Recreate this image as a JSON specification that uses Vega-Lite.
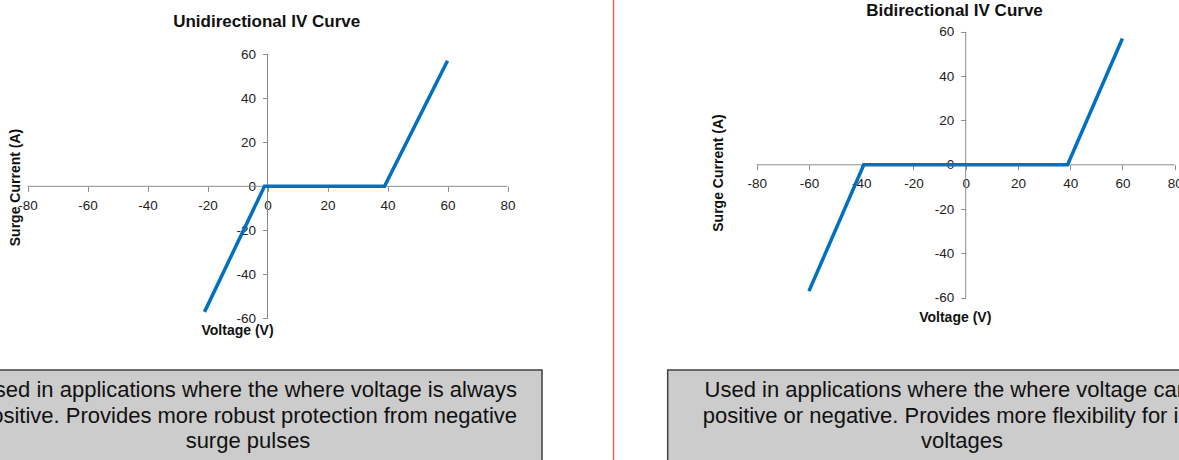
{
  "$schema": "https://vega.github.io/schema/vega-lite/v6.json",
  "width": 1179,
  "height": 460,
  "padding": 0,
  "autosize": {"type": "none"},
  "background": "white",
  "config": {"view": {"stroke": null}, "font": "Liberation Sans"},
  "datasets": {
    "unidirectional": [
      {"voltage": -21, "current": -57},
      {"voltage": -1, "current": 0},
      {"voltage": 39, "current": 0},
      {"voltage": 60, "current": 57}
    ],
    "bidirectional": [
      {"voltage": -60, "current": -57},
      {"voltage": -39, "current": 0},
      {"voltage": 39, "current": 0},
      {"voltage": 60, "current": 57}
    ]
  },
  "layer": [
    {
      "resolve": {"axis": {"x": "independent", "y": "independent"}},
      "layer": [
        {
          "data": {"values": [{}]},
          "mark": {"type": "rule", "color": "#E06666", "strokeWidth": 1.5},
          "encoding": {
            "x": {"datum": 115.33, "type": "quantitative", "scale": {"domain": [-89.17, 303.83], "nice": false, "zero": false}, "axis": null}
          }
        },
        {
          "data": {"values": [{}]},
          "mark": {"type": "rect", "fill": "#CCCCCC", "stroke": "#404040", "strokeWidth": 1.5},
          "encoding": {
            "x": {"datum": -110, "type": "quantitative", "scale": {"domain": [-89.17, 303.83], "nice": false, "zero": false}, "axis": null},
            "x2": {"datum": 91.5},
            "y": {"datum": -83.4, "type": "quantitative", "scale": {"domain": [-124.24, 84.57], "nice": false, "zero": false}, "axis": null},
            "y2": {"datum": -140}
          }
        },
        {
          "data": {"values": [{"note": "Used in applications where the where voltage is always\npositive. Provides more robust protection from negative\nsurge pulses"}]},
          "mark": {"type": "text", "font": "Liberation Sans", "fontSize": 22, "lineBreak": "\n", "lineHeight": 25.5, "align": "center", "baseline": "middle", "color": "#111111"},
          "encoding": {
            "x": {"datum": -6.5, "type": "quantitative", "scale": {"domain": [-89.17, 303.83], "nice": false, "zero": false}, "axis": null},
            "y": {"datum": -92.47, "type": "quantitative", "scale": {"domain": [-124.24, 84.57], "nice": false, "zero": false}, "axis": null},
            "text": {"field": "note"}
          }
        },
        {
          "data": {"values": [{}]},
          "mark": {"type": "rule", "color": "#8C8C8C", "strokeWidth": 1},
          "encoding": {
            "x": {"datum": -80, "type": "quantitative", "scale": {"domain": [-89.17, 303.83], "nice": false, "zero": false}, "axis": null},
            "x2": {"datum": 80},
            "y": {"datum": 0, "type": "quantitative", "scale": {"domain": [-124.24, 84.57], "nice": false, "zero": false}, "axis": null}
          }
        },
        {
          "data": {"values": [{}]},
          "mark": {"type": "rule", "color": "#8C8C8C", "strokeWidth": 1},
          "encoding": {
            "x": {"datum": 0, "type": "quantitative", "scale": {"domain": [-89.17, 303.83], "nice": false, "zero": false}, "axis": null},
            "y": {"datum": -60, "type": "quantitative", "scale": {"domain": [-124.24, 84.57], "nice": false, "zero": false}, "axis": null},
            "y2": {"datum": 60}
          }
        },
        {
          "data": {"name": "unidirectional"},
          "mark": {"type": "line", "color": "#0070C0", "strokeWidth": 3.5},
          "encoding": {
            "x": {
              "field": "voltage", "type": "quantitative",
              "scale": {"domain": [-89.17, 303.83], "nice": false, "zero": false},
              "axis": {"orient": "bottom", "offset": -273.7, "values": [-80, -60, -40, -20, 0, 20, 40, 60, 80], "labelExpr": "'' + datum.value", "domain": false, "grid": false, "tickSize": 5, "tickColor": "#8C8C8C", "tickWidth": 1, "labelFont": "Liberation Sans", "labelFontSize": 13.5, "labelColor": "#222222", "labelPadding": 7, "labelFlush": false, "labelOverlap": false, "title": null}
            },
            "y": {
              "field": "current", "type": "quantitative",
              "scale": {"domain": [-124.24, 84.57], "nice": false, "zero": false},
              "axis": {"orient": "left", "offset": -267.5, "values": [-60, -40, -20, 0, 20, 40, 60], "labelExpr": "'' + datum.value", "domain": false, "grid": false, "tickSize": 5, "tickColor": "#8C8C8C", "tickWidth": 1, "labelFont": "Liberation Sans", "labelFontSize": 13.5, "labelColor": "#222222", "labelPadding": 7, "labelFlush": false, "labelOverlap": false, "title": null}
            }
          }
        },
        {
          "data": {"values": [{"label": "Unidirectional IV Curve"}]},
          "mark": {"type": "text", "font": "Liberation Sans", "fontSize": 17, "fontWeight": "bold", "align": "center", "baseline": "middle", "color": "#111111"},
          "encoding": {
            "x": {"datum": -0.27, "type": "quantitative", "scale": {"domain": [-89.17, 303.83], "nice": false, "zero": false}, "axis": null},
            "y": {"datum": 74.8, "type": "quantitative", "scale": {"domain": [-124.24, 84.57], "nice": false, "zero": false}, "axis": null},
            "text": {"field": "label"}
          }
        },
        {
          "data": {"values": [{"label": "Voltage (V)"}]},
          "mark": {"type": "text", "font": "Liberation Sans", "fontSize": 14, "fontWeight": "bold", "align": "center", "baseline": "middle", "color": "#111111"},
          "encoding": {
            "x": {"datum": -10, "type": "quantitative", "scale": {"domain": [-89.17, 303.83], "nice": false, "zero": false}, "axis": null},
            "y": {"datum": -65.8, "type": "quantitative", "scale": {"domain": [-124.24, 84.57], "nice": false, "zero": false}, "axis": null},
            "text": {"field": "label"}
          }
        },
        {
          "data": {"values": [{"label": "Surge Current (A)"}]},
          "mark": {"type": "text", "font": "Liberation Sans", "fontSize": 14, "fontWeight": "bold", "align": "center", "baseline": "middle", "angle": 270, "color": "#111111"},
          "encoding": {
            "x": {"datum": -83.83, "type": "quantitative", "scale": {"domain": [-89.17, 303.83], "nice": false, "zero": false}, "axis": null},
            "y": {"datum": -0.55, "type": "quantitative", "scale": {"domain": [-124.24, 84.57], "nice": false, "zero": false}, "axis": null},
            "text": {"field": "label"}
          }
        }
      ]
    },
    {
      "resolve": {"axis": {"x": "independent", "y": "independent"}},
      "layer": [
        {
          "data": {"values": [{}]},
          "mark": {"type": "rect", "fill": "#CCCCCC", "stroke": "#404040", "strokeWidth": 1.5},
          "encoding": {
            "x": {"datum": -114.07, "type": "quantitative", "scale": {"domain": [-369.65, 81.65], "nice": false, "zero": false}, "axis": null},
            "x2": {"datum": 120},
            "y": {"datum": -92.6, "type": "quantitative", "scale": {"domain": [-133.21, 74.37], "nice": false, "zero": false}, "axis": null},
            "y2": {"datum": -150}
          }
        },
        {
          "data": {"values": [{"note": "Used in applications where the where voltage can be\npositive or negative. Provides more flexibility for input\nvoltages"}]},
          "mark": {"type": "text", "font": "Liberation Sans", "fontSize": 22, "lineBreak": "\n", "lineHeight": 25.5, "align": "center", "baseline": "middle", "color": "#111111"},
          "encoding": {
            "x": {"datum": -1.4, "type": "quantitative", "scale": {"domain": [-369.65, 81.65], "nice": false, "zero": false}, "axis": null},
            "y": {"datum": -101.63, "type": "quantitative", "scale": {"domain": [-133.21, 74.37], "nice": false, "zero": false}, "axis": null},
            "text": {"field": "note"}
          }
        },
        {
          "data": {"values": [{}]},
          "mark": {"type": "rule", "color": "#8C8C8C", "strokeWidth": 1},
          "encoding": {
            "x": {"datum": -80, "type": "quantitative", "scale": {"domain": [-369.65, 81.65], "nice": false, "zero": false}, "axis": null},
            "x2": {"datum": 80},
            "y": {"datum": 0, "type": "quantitative", "scale": {"domain": [-133.21, 74.37], "nice": false, "zero": false}, "axis": null}
          }
        },
        {
          "data": {"values": [{}]},
          "mark": {"type": "rule", "color": "#8C8C8C", "strokeWidth": 1},
          "encoding": {
            "x": {"datum": 0, "type": "quantitative", "scale": {"domain": [-369.65, 81.65], "nice": false, "zero": false}, "axis": null},
            "y": {"datum": -60, "type": "quantitative", "scale": {"domain": [-133.21, 74.37], "nice": false, "zero": false}, "axis": null},
            "y2": {"datum": 60}
          }
        },
        {
          "data": {"name": "bidirectional"},
          "mark": {"type": "line", "color": "#0070C0", "strokeWidth": 3.5},
          "encoding": {
            "x": {
              "field": "voltage", "type": "quantitative",
              "scale": {"domain": [-369.65, 81.65], "nice": false, "zero": false},
              "axis": {"orient": "bottom", "offset": -295.2, "values": [-80, -60, -40, -20, 0, 20, 40, 60, 80], "labelExpr": "'' + datum.value", "domain": false, "grid": false, "tickSize": 5, "tickColor": "#8C8C8C", "tickWidth": 1, "labelFont": "Liberation Sans", "labelFontSize": 13.5, "labelColor": "#222222", "labelPadding": 7, "labelFlush": false, "labelOverlap": false, "title": null}
            },
            "y": {
              "field": "current", "type": "quantitative",
              "scale": {"domain": [-133.21, 74.37], "nice": false, "zero": false},
              "axis": {"orient": "left", "offset": -965.7, "values": [-60, -40, -20, 0, 20, 40, 60], "labelExpr": "'' + datum.value", "domain": false, "grid": false, "tickSize": 5, "tickColor": "#8C8C8C", "tickWidth": 1, "labelFont": "Liberation Sans", "labelFontSize": 13.5, "labelColor": "#222222", "labelPadding": 7, "labelFlush": false, "labelOverlap": false, "title": null}
            }
          }
        },
        {
          "data": {"values": [{"label": "Bidirectional IV Curve"}]},
          "mark": {"type": "text", "font": "Liberation Sans", "fontSize": 17, "fontWeight": "bold", "align": "center", "baseline": "middle", "color": "#111111"},
          "encoding": {
            "x": {"datum": -4.3, "type": "quantitative", "scale": {"domain": [-369.65, 81.65], "nice": false, "zero": false}, "axis": null},
            "y": {"datum": 69.4, "type": "quantitative", "scale": {"domain": [-133.21, 74.37], "nice": false, "zero": false}, "axis": null},
            "text": {"field": "label"}
          }
        },
        {
          "data": {"values": [{"label": "Voltage (V)"}]},
          "mark": {"type": "text", "font": "Liberation Sans", "fontSize": 14, "fontWeight": "bold", "align": "center", "baseline": "middle", "color": "#111111"},
          "encoding": {
            "x": {"datum": -4, "type": "quantitative", "scale": {"domain": [-369.65, 81.65], "nice": false, "zero": false}, "axis": null},
            "y": {"datum": -69.1, "type": "quantitative", "scale": {"domain": [-133.21, 74.37], "nice": false, "zero": false}, "axis": null},
            "text": {"field": "label"}
          }
        },
        {
          "data": {"values": [{"label": "Surge  Current (A)"}]},
          "mark": {"type": "text", "font": "Liberation Sans", "fontSize": 14, "fontWeight": "bold", "align": "center", "baseline": "middle", "angle": 270, "color": "#111111"},
          "encoding": {
            "x": {"datum": -94.6, "type": "quantitative", "scale": {"domain": [-369.65, 81.65], "nice": false, "zero": false}, "axis": null},
            "y": {"datum": -3.7, "type": "quantitative", "scale": {"domain": [-133.21, 74.37], "nice": false, "zero": false}, "axis": null},
            "text": {"field": "label"}
          }
        }
      ]
    }
  ],
  "resolve": {
    "scale": {"x": "independent", "y": "independent"},
    "axis": {"x": "independent", "y": "independent"}
  }
}
